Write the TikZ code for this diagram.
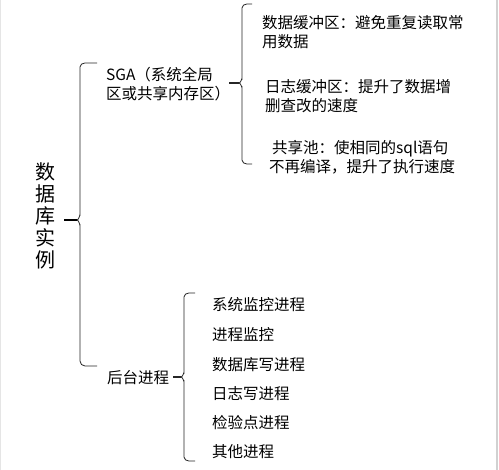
\documentclass[tikz,border=0pt]{standalone}
\usepackage{fontspec}
\setmainfont{Noto Sans CJK SC}
\begin{document}
\begin{tikzpicture}[x=1pt,y=-1pt,
  bracestyle/.style={draw=black!85,line width=0.8pt},
  tipstyle/.style={draw=black,line width=1.8pt},
  txt/.style={anchor=west,inner sep=0pt,font=\fontsize{15.5pt}{19pt}\selectfont,align=left},
  title/.style={inner sep=0pt,font=\fontsize{20pt}{22pt}\selectfont,align=center}]
\useasboundingbox (0,0) rectangle (499,470);
\fill[white] (0,0) rectangle (499,470);
\draw[black!10,line width=1pt] (0.5,0) -- (0.5,470);
\draw[black!18,line width=1.6pt] (496.8,0) -- (496.8,470);
% title
\node[title] (root) at (45,216) {数\\据\\库\\实\\例};
% level 1
\node[txt] (sga) at (106,84) {SGA（系统全局\\区或共享内存区）};
\node[txt] (bg) at (107,378) {后台进程};
% brace 1
\draw[bracestyle] (97,63) -- (85,63) to[out=180,in=90] (80,67) -- (80,215)
  to[out=90,in=0] (77,220) to[out=0,in=-90] (80,225) -- (80,361)
  to[out=-90,in=180] (85,366) -- (97,366);
\draw[tipstyle] (64,220) -- (77,220);
% brace 2
\draw[bracestyle] (252,4) -- (247,4) to[out=180,in=90] (242,8) -- (242,79)
  to[out=90,in=0] (239,83) to[out=0,in=-90] (242,87) -- (242,160)
  to[out=-90,in=180] (247,164) -- (252,164);
\draw[bracestyle,line width=1.3pt] (229,83) -- (239,83);
% SGA children
\node[txt] (dbuf) at (262,32) {数据缓冲区：避免重复读取常\\用数据};
\node[txt] (lbuf) at (265,96) {日志缓冲区：提升了数据增\\删查改的速度};
\node[txt] (pool) at (269,157) {\hspace{3pt}共享池：使相同的sql语句\\不再编译，提升了执行速度};
% brace 3
\draw[bracestyle] (195,293) -- (189,293) to[out=180,in=90] (184,297) -- (184,373)
  to[out=90,in=0] (181,377) to[out=0,in=-90] (184,381) -- (184,457)
  to[out=-90,in=180] (189,461) -- (195,461);
\draw[bracestyle,line width=1.3pt] (173,377) -- (181,377);
% background processes
\node[txt] (p1) at (212,305) {系统监控进程};
\node[txt] (p2) at (212,335) {进程监控};
\node[txt] (p3) at (212,365) {数据库写进程};
\node[txt] (p4) at (212,394) {日志写进程};
\node[txt] (p5) at (212,423) {检验点进程};
\node[txt] (p6) at (212,452) {其他进程};
\end{tikzpicture}
\end{document}
